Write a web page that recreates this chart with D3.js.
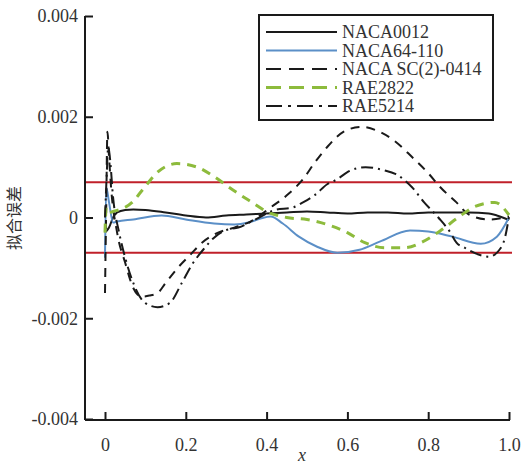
<!DOCTYPE html>
<html>
<head>
<meta charset="utf-8">
<script src="https://cdn.jsdelivr.net/npm/d3@7"></script>
<style>
  body { margin: 0; background: #fff; }
  text { font-family: "Liberation Serif", "Times New Roman", serif; fill: #333; }
</style>
</head>
<body>
<div id="chart"></div>
<script>
// series names and tick labels
const seriesNames = ["NACA0012", "NACA64-110", "NACA SC(2)-0414", "RAE2822", "RAE5214"];
const xTicks = [0, 0.2, 0.4, 0.6, 0.8, 1.0];
const yTicks = [-0.004, -0.002, 0, 0.002, 0.004];
const errorBand = [-0.0007, 0.0007];

// [x, error] pairs
const naca0012 = [[0,-0.0003],[0.01,-0.0002],[0.02,0],[0.03,0.0001],[0.05,0.00015],[0.07,0.00016],[0.1,0.00015],[0.15,0.0001],[0.2,0.00004],[0.25,0],[0.3,0.00004],[0.35,0.00006],[0.4,0.00008],[0.45,0.0001],[0.5,0.00012],[0.55,0.0001],[0.6,0.00008],[0.65,0.0001],[0.7,0.0001],[0.75,0.00008],[0.8,0.0001],[0.85,0.0001],[0.9,0.0001],[0.95,0.00008],[0.97,0.00004],[1.0,-0.00005]];
const naca64110 = [[0,-0.0008],[0.003,0.0006],[0.01,0.0003],[0.02,-0.0001],[0.03,-0.00008],[0.07,-0.00004],[0.14,0.00004],[0.2,-0.00004],[0.27,-0.00012],[0.32,-0.00014],[0.355,-0.0001],[0.385,-0.00002],[0.41,0.00002],[0.44,-0.00012],[0.48,-0.00038],[0.525,-0.00058],[0.575,-0.0007],[0.63,-0.00064],[0.68,-0.00048],[0.755,-0.00026],[0.8,-0.00028],[0.86,-0.00038],[0.93,-0.00052],[0.97,-0.00038],[1.0,0]];
const scTwo0414 = [[0,-0.0015],[0.003,0.0002],[0.006,0.0017],[0.01,0.0012],[0.015,0.0006],[0.03,-0.0003],[0.05,-0.0009],[0.07,-0.0014],[0.09,-0.00157],[0.11,-0.00155],[0.13,-0.0015],[0.15,-0.0013],[0.18,-0.001],[0.21,-0.00075],[0.24,-0.0005],[0.28,-0.0003],[0.32,-0.0002],[0.36,-0.00008],[0.41,0.0002],[0.45,0.00044],[0.49,0.00076],[0.52,0.0011],[0.55,0.0014],[0.59,0.0017],[0.635,0.0018],[0.68,0.0017],[0.72,0.0015],[0.76,0.0012],[0.8,0.00088],[0.83,0.0006],[0.87,0.0003],[0.9,0.00006],[0.95,-0.00004],[1.0,0.00002]];
const rae2822 = [[0,-0.0003],[0.003,0.0002],[0.01,0.0001],[0.02,0.00012],[0.067,0.0003],[0.094,0.00056],[0.13,0.0009],[0.178,0.00107],[0.228,0.001],[0.272,0.0008],[0.314,0.00056],[0.36,0.00032],[0.4,0.00012],[0.45,0],[0.5,-0.00004],[0.55,-0.00014],[0.6,-0.0003],[0.643,-0.0005],[0.693,-0.0006],[0.743,-0.0006],[0.787,-0.00048],[0.834,-0.00024],[0.874,0],[0.916,0.00022],[0.965,0.0003],[1.0,0.00005]];
const rae5214 = [[0,0],[0.004,0.0008],[0.008,0.0014],[0.012,0.0012],[0.02,0.0004],[0.035,-0.0003],[0.05,-0.0008],[0.07,-0.0013],[0.1,-0.0017],[0.13,-0.00178],[0.16,-0.0017],[0.19,-0.0013],[0.215,-0.00094],[0.245,-0.00062],[0.27,-0.0004],[0.3,-0.00025],[0.33,-0.0002],[0.37,-0.00005],[0.42,0.00015],[0.465,0.0002],[0.49,0.0003],[0.52,0.00045],[0.55,0.00066],[0.575,0.00076],[0.6,0.0009],[0.645,0.001],[0.69,0.00094],[0.72,0.00086],[0.76,0.0006],[0.79,0.0003],[0.825,0],[0.855,-0.0003],[0.87,-0.0005],[0.89,-0.0006],[0.93,-0.00075],[0.95,-0.00078],[0.98,-0.0006],[0.99,-0.0004],[1.0,0.00002]];

const allSeries = [naca0012, naca64110, scTwo0414, rae2822, rae5214];
const styles = [
  { color: "#1a1a1a", width: 2, dash: null, legendDash: null },
  { color: "#5b8fc7", width: 2, dash: null, legendDash: null },
  { color: "#1a1a1a", width: 2, dash: "9,7", legendDash: "15,8" },
  { color: "#8dbb3c", width: 3, dash: "9,7", legendDash: "15,8" },
  { color: "#1a1a1a", width: 2, dash: "12,5,2,5", legendDash: "16,6,3,6" }
];

const W = 522, H = 464;
const svg = d3.select("#chart").append("svg").attr("width", W).attr("height", H);

const x = d3.scaleLinear().domain([0, 1]).range([105, 509]);
const y = d3.scaleLinear().domain([-0.004, 0.004]).range([419, 16]);

// error band lines
svg.selectAll(".band")
  .data(errorBand)
  .enter()
  .append("line")
  .attr("x1", 85).attr("x2", 512)
  .attr("y1", d => y(d)).attr("y2", d => y(d))
  .attr("stroke", "#c0202a")
  .attr("stroke-width", 2);

const line = d3.line()
  .x(d => x(d[0]))
  .y(d => y(d[1]))
  .curve(d3.curveMonotoneX);

allSeries.forEach((s, i) => {
  svg.append("path")
    .datum(s)
    .attr("d", line)
    .attr("fill", "none")
    .attr("stroke", styles[i].color)
    .attr("stroke-width", styles[i].width)
    .attr("stroke-dasharray", styles[i].dash);
});

// axes
const xAxis = svg.append("g")
  .attr("transform", "translate(0,420)")
  .call(d3.axisBottom(x).tickValues(xTicks).tickSize(-8).tickPadding(18)
    .tickFormat(d => d === 1 ? "1.0" : String(d)));
xAxis.select(".domain").attr("d", "M85,0H510");

const yAxis = svg.append("g")
  .attr("transform", "translate(85,0)")
  .call(d3.axisLeft(y).tickValues(yTicks).tickSize(-8).tickPadding(7)
    .tickFormat(d => d === 0 ? "0" : d.toFixed(3)));
yAxis.select(".domain").attr("d", "M0,16V420");

svg.selectAll(".domain").attr("stroke", "#1a1a1a").attr("stroke-width", 2);
svg.selectAll(".tick line").attr("stroke", "#1a1a1a").attr("stroke-width", 2);
svg.selectAll(".tick text")
  .style("font-family", "'Liberation Serif', serif")
  .style("font-size", "18px")
  .attr("fill", "#333");

// axis titles
svg.append("text")
  .attr("x", 302).attr("y", 461)
  .attr("text-anchor", "middle")
  .style("font-style", "italic")
  .style("font-size", "18px")
  .text("x");

svg.append("text")
  .attr("transform", "translate(20,218) rotate(-90)")
  .attr("text-anchor", "middle")
  .style("font-family", "'Noto Sans CJK SC', sans-serif")
  .style("font-size", "16px")
  .attr("fill", "#444")
  .text("拟合误差");

// legend
const legend = svg.append("g");
legend.append("rect")
  .attr("x", 259).attr("y", 15)
  .attr("width", 234).attr("height", 105)
  .attr("fill", "#fff")
  .attr("stroke", "#1a1a1a")
  .attr("stroke-width", 2);

seriesNames.forEach((name, i) => {
  const ly = 32 + i * 18.5;
  legend.append("line")
    .attr("x1", 266).attr("x2", 337)
    .attr("y1", ly).attr("y2", ly)
    .attr("stroke", styles[i].color)
    .attr("stroke-width", styles[i].width)
    .attr("stroke-dasharray", styles[i].legendDash);
  legend.append("text")
    .attr("x", 342).attr("y", ly + 6)
    .style("font-size", "18px")
    .text(name);
});
</script>
</body>
</html>
